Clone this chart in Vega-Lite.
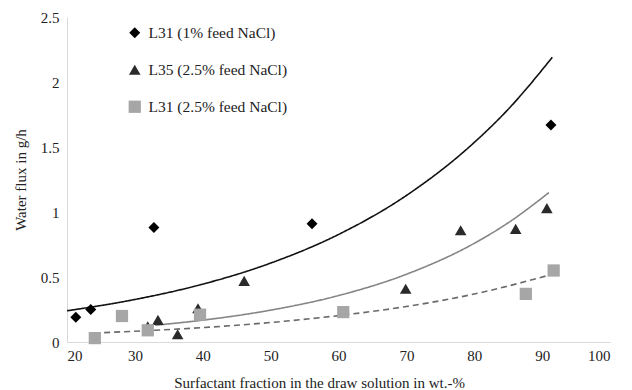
{
  "$schema": "https://vega.github.io/schema/vega-lite/v6.json",
  "width": 543,
  "height": 325,
  "autosize": "none",
  "padding": {"left": 67, "top": 17, "right": 22, "bottom": 48},
  "background": "white",
  "config": {
    "view": {"stroke": null},
    "font": "Liberation Serif",
    "axis": {"labelFont": "Liberation Serif", "titleFont": "Liberation Serif", "labelColor": "#222", "titleColor": "#222", "titleFontWeight": "normal"},
    "legend": {"labelFont": "Liberation Serif"}
  },
  "datasets": {
    "pts": [
      {"series": "L31 (1% feed NaCl)", "x": 21.3, "y": 0.19},
      {"series": "L31 (1% feed NaCl)", "x": 23.5, "y": 0.25},
      {"series": "L31 (1% feed NaCl)", "x": 32.8, "y": 0.88},
      {"series": "L31 (1% feed NaCl)", "x": 56.1, "y": 0.91},
      {"series": "L31 (1% feed NaCl)", "x": 91.3, "y": 1.67},
      {"series": "L35 (2.5% feed NaCl)", "x": 31.9, "y": 0.12},
      {"series": "L35 (2.5% feed NaCl)", "x": 33.4, "y": 0.17},
      {"series": "L35 (2.5% feed NaCl)", "x": 36.3, "y": 0.06},
      {"series": "L35 (2.5% feed NaCl)", "x": 39.3, "y": 0.26},
      {"series": "L35 (2.5% feed NaCl)", "x": 46.1, "y": 0.47},
      {"series": "L35 (2.5% feed NaCl)", "x": 69.9, "y": 0.41},
      {"series": "L35 (2.5% feed NaCl)", "x": 78.0, "y": 0.86},
      {"series": "L35 (2.5% feed NaCl)", "x": 86.1, "y": 0.87},
      {"series": "L35 (2.5% feed NaCl)", "x": 90.7, "y": 1.03},
      {"series": "L31 (2.5% feed NaCl)", "x": 24.1, "y": 0.03},
      {"series": "L31 (2.5% feed NaCl)", "x": 28.1, "y": 0.2},
      {"series": "L31 (2.5% feed NaCl)", "x": 31.9, "y": 0.09},
      {"series": "L31 (2.5% feed NaCl)", "x": 39.6, "y": 0.21},
      {"series": "L31 (2.5% feed NaCl)", "x": 60.7, "y": 0.23},
      {"series": "L31 (2.5% feed NaCl)", "x": 87.6, "y": 0.37},
      {"series": "L31 (2.5% feed NaCl)", "x": 91.7, "y": 0.55}
    ],
    "fit": [
      {"fit": "a", "x": 20, "y": 0.24},
      {"fit": "a", "x": 30, "y": 0.327},
      {"fit": "a", "x": 40, "y": 0.445},
      {"fit": "a", "x": 50, "y": 0.607},
      {"fit": "a", "x": 60, "y": 0.827},
      {"fit": "a", "x": 70, "y": 1.127},
      {"fit": "a", "x": 80, "y": 1.535},
      {"fit": "a", "x": 85, "y": 1.79},
      {"fit": "a", "x": 91.5, "y": 2.19},
      {"fit": "b", "x": 33, "y": 0.129},
      {"fit": "b", "x": 40, "y": 0.168},
      {"fit": "b", "x": 50, "y": 0.245},
      {"fit": "b", "x": 60, "y": 0.357},
      {"fit": "b", "x": 70, "y": 0.521},
      {"fit": "b", "x": 80, "y": 0.759},
      {"fit": "b", "x": 85, "y": 0.917},
      {"fit": "b", "x": 91, "y": 1.149},
      {"fit": "c", "x": 24, "y": 0.069},
      {"fit": "c", "x": 30, "y": 0.083},
      {"fit": "c", "x": 40, "y": 0.111},
      {"fit": "c", "x": 50, "y": 0.15},
      {"fit": "c", "x": 60, "y": 0.203},
      {"fit": "c", "x": 70, "y": 0.273},
      {"fit": "c", "x": 80, "y": 0.369},
      {"fit": "c", "x": 92, "y": 0.528}
    ]
  },
  "layer": [
    {
      "data": {"name": "fit"},
      "mark": {"type": "line", "interpolate": "monotone", "strokeWidth": 1.6},
      "encoding": {
        "x": {"field": "x", "type": "quantitative"},
        "y": {"field": "y", "type": "quantitative"},
        "stroke": {"field": "fit", "type": "nominal", "scale": {"domain": ["a", "b", "c"], "range": ["#111111", "#858585", "#6a6a6a"]}, "legend": null},
        "strokeDash": {"field": "fit", "type": "nominal", "scale": {"domain": ["a", "b", "c"], "range": [[1, 0], [1, 0], [6, 4]]}, "legend": null}
      }
    },
    {
      "data": {"name": "pts"},
      "mark": {"type": "point", "filled": true, "opacity": 1},
      "encoding": {
        "x": {"field": "x", "type": "quantitative", "scale": {"domain": [20, 100], "nice": false, "zero": false},
          "axis": {"values": [20, 30, 40, 50, 60, 70, 80, 90, 100], "title": "Surfactant fraction in the draw solution in wt.-%", "grid": false, "ticks": false, "domainColor": "#d9d9d9", "labelFontSize": 15, "labelPadding": 6, "titleFontSize": 15, "titleX": 252, "titleY": 40, "titleBaseline": "middle", "titleAnchor": null, "titleAlign": "center"}},
        "y": {"field": "y", "type": "quantitative", "scale": {"domain": [0, 2.5], "nice": false},
          "axis": {"values": [0, 0.5, 1, 1.5, 2, 2.5], "format": ".2~f", "title": "Water flux in g/h", "grid": false, "ticks": false, "domainColor": "#d9d9d9", "labelFontSize": 15, "labelPadding": 8, "titleFontSize": 15, "titleX": -47, "titleY": 162.5, "titleBaseline": "middle", "titleAlign": "center", "titleAngle": -90}},
        "color": {"field": "series", "type": "nominal", "scale": {"domain": ["L31 (1% feed NaCl)", "L35 (2.5% feed NaCl)", "L31 (2.5% feed NaCl)"], "range": ["#000000", "#2a2a2a", "#a6a6a6"]},
          "legend": {"title": null, "orient": "none", "legendX": 60, "legendY": 8, "labelFontSize": 15.5, "labelColor": "#222", "rowPadding": 20, "symbolSize": 80, "labelOffset": 6}},
        "shape": {"field": "series", "type": "nominal", "scale": {"domain": ["L31 (1% feed NaCl)", "L35 (2.5% feed NaCl)", "L31 (2.5% feed NaCl)"], "range": ["diamond", "triangle-up", "square"]},
          "legend": {"title": null, "orient": "none", "legendX": 60, "legendY": 8, "labelFontSize": 15.5, "labelColor": "#222", "rowPadding": 20, "symbolSize": 80, "labelOffset": 6}},
        "size": {"field": "series", "type": "nominal", "scale": {"domain": ["L31 (1% feed NaCl)", "L35 (2.5% feed NaCl)", "L31 (2.5% feed NaCl)"], "range": [120, 150, 160]}, "legend": null}
      }
    }
  ]
}
